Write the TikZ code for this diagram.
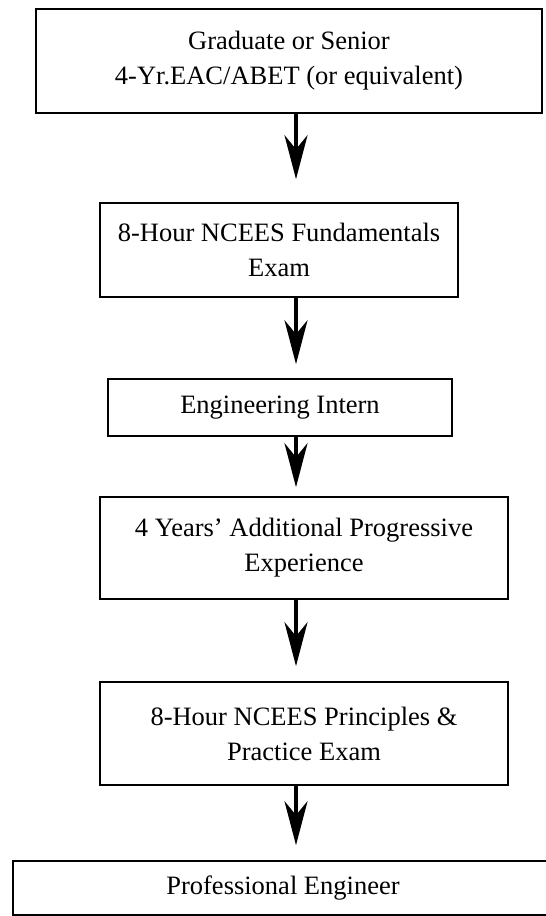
\documentclass[tikz,border=0pt]{standalone}
\usepackage{fontspec}
\setmainfont{Liberation Serif}
\usetikzlibrary{arrows.meta,positioning}

\begin{document}
\begin{tikzpicture}
[x=1pt,y=-1pt,
    stage/.style={draw,line width=1.6pt,shape=rectangle,align=center,
    inner sep=0pt,font=\fontsize{26.5}{35}\selectfont},
    flow/.style={line width=4pt,-{Stealth[length=44pt,width=23pt,inset=14pt]}}]
\useasboundingbox (0,0) rectangle (546,916);
%% nodes
\node (grad) [stage,minimum width=506pt,minimum height=104pt] at (289,61)
  {Graduate or Senior\\4-Yr.EAC/ABET (or equivalent)};
\node (fe) [stage,minimum width=358pt,minimum height=94pt] at (279,250)
  {8-Hour NCEES Fundamentals\\Exam};
\node (ei) [stage,minimum width=344pt,minimum height=57pt] at (280,407.5)
  {Engineering Intern};
\node (exp) [stage,minimum width=408pt,minimum height=102pt] at (304,548)
  {4 Years' Additional Progressive\\Experience};
\node (pe) [stage,minimum width=408pt,minimum height=103pt] at (304,733.5)
  {8-Hour NCEES Principles \&\\Practice Exam};
\node (prof) [stage,minimum width=540pt,minimum height=54pt] at (283,888)
  {Professional Engineer};
%% edges
\coordinate (axis) at (296,0);
\draw[flow,shorten >=23pt] (grad.south -| axis) -- (fe.north -| axis);
\draw[flow,shorten >=14pt] (fe.south -| axis) -- (ei.north -| axis);
\draw[flow,shorten >=9pt] (ei.south -| axis) -- (exp.north -| axis);
\draw[flow,shorten >=15pt] (exp.south -| axis) -- (pe.north -| axis);
\draw[flow,shorten >=15pt] (pe.south -| axis) -- (prof.north -| axis);
\end{tikzpicture}
\end{document}
